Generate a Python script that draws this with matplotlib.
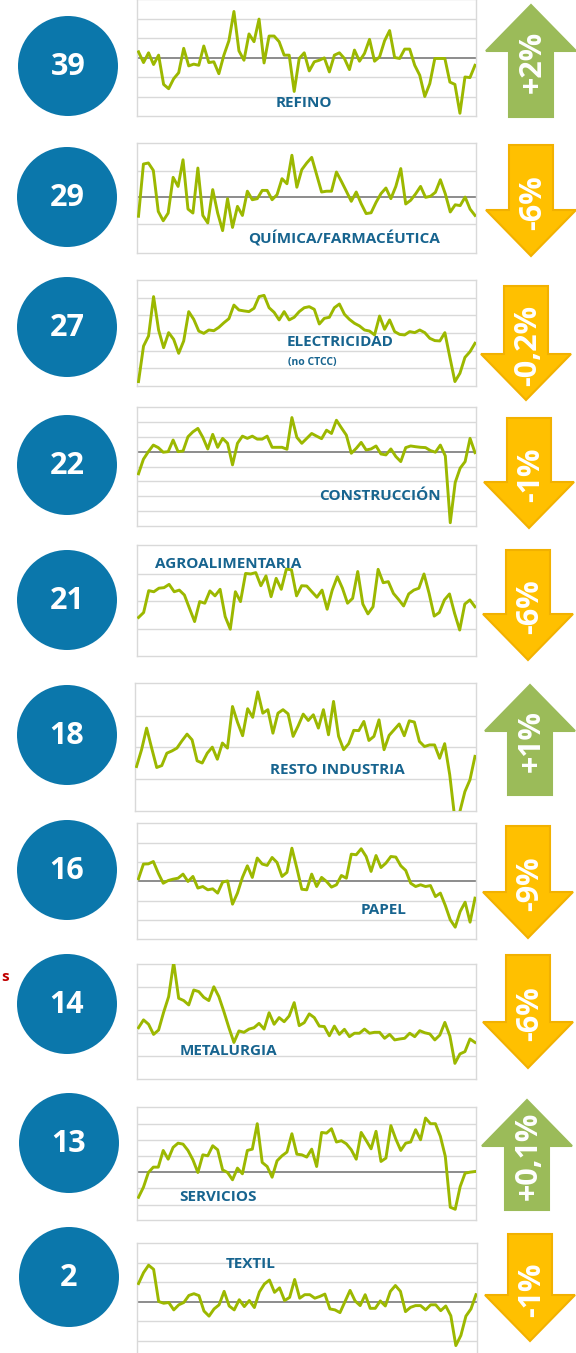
import matplotlib
matplotlib.use("Agg")
import matplotlib.pyplot as plt
from matplotlib.patches import Ellipse, Polygon

plt.rcParams['font.family'] = ['Open Sans', 'DejaVu Sans']

# ---- data (grid units) ----
sectores = ["REFINO", "QUÍMICA/FARMACÉUTICA", "ELECTRICIDAD", "CONSTRUCCIÓN",
            "AGROALIMENTARIA", "RESTO INDUSTRIA", "PAPEL", "METALURGIA",
            "SERVICIOS", "TEXTIL"]
numeros = ["39", "29", "27", "22", "21", "18", "16", "14", "13", "2"]
variaciones = ["+2%", "-6%", "-0,2%", "-1%", "-6%", "+1%", "-9%", "-6%", "+0,1%", "-1%"]

refino = [0.29, -0.26, 0.24, -0.36, 0.12, -1.38, -1.60, -1.09, -0.78, 0.47, -0.43, -0.34,
          -0.40, 0.59, -0.26, -0.22, -0.83, 0.12, 0.86, 2.36, 0.34, -0.14, 1.21, 0.81,
          1.97, -0.28, 1.10, 1.10, 0.81, 0.12, 0.12, -1.74, -0.05, 0.24, -0.69, -0.22,
          -0.14, -0.02, -0.74, 0.12, 0.24, -0.05, -0.62, 0.38, -0.19, 0.21, 0.93, -0.19,
          0.03, 0.86, 1.38, 0.0, -0.05, 0.43, 0.43, -0.40, -0.91, -2.0, -1.34, -0.05,
          -0.05, -0.05, -1.26, -1.38, -2.86, -1.0, -1.03, -0.40]
quimica = [-0.71, 1.25, 1.29, 1.01, -0.53, -0.88, -0.59, 0.75, 0.41, 1.41, -0.44, -0.59,
           1.10, -0.68, -0.96, 0.29, -0.59, -1.25, -0.05, -1.13, -0.34, -0.68, 0.23, -0.09,
           -0.05, 0.26, 0.26, -0.09, 0.10, 0.70, 0.51, 1.58, 0.38, 1.04, 1.29, 1.50, 0.85,
           0.20, 0.23, 0.23, 0.95, 0.60, 0.23, -0.15, 0.20, -0.24, -0.61, -0.58, -0.19,
           0.14, 0.35, -0.05, 0.41, 1.08, -0.25, -0.11, 0.13, 0.41, 0.0, 0.04, 0.19, 0.66,
           0.13, -0.55, -0.28, -0.31, 0.01, -0.44, -0.68]
electricidad = [0.25, 2.26, 2.83, 5.06, 3.17, 2.17, 3.02, 2.64, 1.85, 2.55, 4.21, 3.77,
                3.11, 2.98, 3.17, 3.13, 3.32, 3.58, 3.81, 4.58, 4.30, 4.25, 4.21, 4.40,
                5.06, 5.13, 4.43, 4.17, 3.74, 4.21, 3.74, 3.89, 4.21, 4.43, 4.49, 4.34,
                3.51, 3.83, 3.89, 4.43, 4.64, 4.06, 3.77, 3.55, 3.40, 3.17, 3.11, 2.89,
                3.96, 3.21, 3.74, 3.08, 2.92, 2.89, 3.08, 3.02, 3.17, 3.02, 2.70, 2.57,
                2.55, 3.02, 1.62, 0.25, 0.72, 1.62, 1.94, 2.42]
construccion = [-1.49, -0.51, 0.0, 0.44, 0.27, -0.04, 0.0, 0.78, 0.0, 0.04, 1.0, 1.33,
                1.56, 0.96, 0.18, 1.16, 0.29, 0.89, 0.56, -0.89, 0.56, 1.04, 0.89, 1.04,
                0.84, 0.84, 1.04, 0.29, 0.29, 0.29, 0.16, 2.29, 0.96, 0.56, 0.89, 1.22,
                1.04, 0.87, 1.44, 1.22, 2.11, 1.6, 1.11, -0.11, 0.22, 0.62, 0.11, 0.18,
                0.38, -0.16, -0.22, 0.18, -0.33, -0.67, 0.27, 0.38, 0.33, 0.29, 0.27, 0.07,
                -0.04, 0.44, -0.29, -4.78, -2.07, -1.11, -0.67, 0.89, -0.07]
agro = [1.41, 1.59, 2.39, 2.35, 2.48, 2.5, 2.62, 2.35, 2.41, 2.23, 1.74, 1.26, 1.99, 1.93,
        2.38, 2.2, 2.44, 1.44, 0.98, 2.35, 1.99, 3.02, 3.0, 3.05, 2.57, 2.93, 2.17, 2.84,
        2.44, 3.18, 3.15, 2.2, 2.57, 2.56, 2.35, 2.15, 2.41, 1.71, 2.41, 2.9, 2.48, 1.93,
        2.11, 3.09, 1.9, 1.54, 1.8, 3.17, 2.68, 2.72, 2.29, 2.07, 1.83, 2.27, 2.41, 2.48,
        3.0, 2.29, 1.46, 1.59, 2.05, 2.27, 1.56, 0.95, 1.9, 2.05, 1.8]
resto = [1.40, 1.93, 2.61, 1.98, 1.37, 1.43, 1.82, 1.89, 1.98, 2.21, 2.42, 2.24, 1.58,
         1.51, 1.82, 2.01, 1.63, 2.14, 1.98, 3.29, 2.79, 2.37, 3.22, 2.95, 3.75, 3.08,
         3.19, 2.45, 3.08, 3.19, 3.06, 2.35, 2.68, 3.05, 2.85, 3.03, 2.61, 3.19, 2.4,
         3.45, 2.35, 1.93, 2.12, 2.54, 2.53, 2.82, 2.22, 2.35, 2.87, 1.93, 2.38, 2.56,
         2.74, 2.37, 2.84, 2.8, 2.19, 2.03, 2.08, 2.08, 1.66, 2.12, 1.14, -0.23, -0.02,
         0.61, 0.98, 1.72]
papel = [0.14, 0.9, 0.91, 1.03, 0.43, -0.09, 0.05, 0.12, 0.17, 0.38, 0.0, 0.26, -0.34,
         -0.26, -0.43, -0.38, -0.6, -0.03, 0.03, -1.17, -0.6, 0.21, 0.81, 0.21, 1.21, 0.9,
         0.83, 1.24, 0.98, 0.26, 0.47, 1.72, 0.69, -0.4, -0.43, 0.38, -0.26, 0.21, 0.0,
         -0.29, -0.17, 0.31, 0.17, 1.41, 1.38, 1.69, 1.29, 0.52, 1.34, 0.72, 0.95, 1.29,
         1.26, 0.81, 0.57, -0.09, -0.26, -0.17, -0.26, -0.21, -0.78, -0.6, -1.24, -1.98,
         -2.36, -1.55, -1.07, -2.1, -0.86]
metalurgia = [2.23, 2.57, 2.38, 1.94, 2.13, 2.9, 3.58, 5.07, 3.51, 3.41, 3.22, 3.87, 3.8,
              3.55, 3.41, 4.01, 3.58, 2.93, 2.23, 1.59, 2.09, 2.03, 2.17, 2.23, 2.42, 2.17,
              2.88, 2.38, 2.67, 2.49, 2.74, 3.32, 2.32, 2.45, 2.83, 2.67, 2.3, 2.28, 1.88,
              2.3, 1.94, 2.16, 1.84, 1.99, 1.99, 2.17, 1.99, 2.03, 2.03, 1.77, 1.94, 1.7,
              1.74, 1.77, 1.99, 1.84, 2.1, 2.01, 1.96, 1.7, 1.91, 2.46, 1.87, 0.68, 1.09,
              1.19, 1.74, 1.59]
servicios = [-1.55, -0.93, -0.02, 0.31, 0.31, 1.34, 0.8, 1.53, 1.79, 1.73, 1.34, 0.76,
             -0.02, 1.07, 1.01, 1.63, 1.38, 0.14, -0.02, -0.47, 0.25, -0.1, 1.34, 1.42,
             2.99, 0.6, 0.35, -0.31, 0.7, 1.01, 1.24, 2.37, 1.11, 1.07, 0.93, 1.42, 0.35,
             2.45, 2.41, 2.68, 1.86, 1.94, 1.75, 1.38, 0.8, 2.45, 1.96, 1.44, 2.52, 0.66,
             0.87, 2.87, 2.04, 1.34, 1.79, 1.86, 2.62, 2.0, 3.34, 2.99, 2.99, 2.21, 0.97,
             -2.16, -2.29, -0.89, -0.06, 0.0, 0.04]
textil = [0.92, 1.48, 1.86, 1.65, 0.0, -0.09, -0.05, -0.43, -0.17, -0.05, 0.31, 0.4, 0.3,
          -0.49, -0.75, -0.38, -0.17, 0.52, -0.23, -0.43, 0.09, -0.26, 0.05, -0.31, 0.49,
          0.9, 1.1, 0.47, 0.7, 0.05, 0.21, 1.13, 0.17, 0.35, 0.35, 0.17, 0.26, 0.38, -0.38,
          -0.43, -0.57, 0.0, 0.57, 0.03, -0.21, 0.35, -0.35, -0.35, 0.03, -0.23, 0.52,
          0.82, 0.52, -0.52, -0.3, -0.21, -0.21, -0.43, -0.17, -0.17, -0.47, -0.23, -0.73,
          -2.26, -1.74, -0.75, -0.38, 0.35]

series = [refino, quimica, electricidad, construccion, agro, resto, papel,
          metalurgia, servicios, textil]

# ---- layout (pixels) ----
W, H = 576, 1353
BLUE = '#0B77AB'
LINE = '#9CB800'
LABEL = '#17648F'
GREEN = '#9BBB59'
ORANGE = '#FFC000'

# chart boxes: left, top, right, bottom, ylim, gridlines, zero line
boxes = [
    (137, -1, 476, 116, (-3, 3), [-2, -1, 1, 2], True),
    (137, 143, 476, 253, (-2.09, 2.04), [-1, 1], True),
    (137, 280, 476, 386, (0, 6), [1, 2, 3, 4, 5], False),
    (137, 407, 476, 526, (-5, 3), [-4, -3, -2, -1, 1, 2], True),
    (137, 545, 476, 656, (0, 4.06), [1, 2, 3], False),
    (135, 683, 476, 811, (0, 4.03), [1, 2, 3], False),
    (137, 823, 476, 939, (-2.97, 3.02), [-2, -1, 1, 2], True),
    (137, 964, 476, 1079, (0, 5), [1, 2, 3, 4], False),
    (137, 1107, 476, 1220, (-2.95, 4.02), [-2, -1, 1, 2, 3], True),
    (137, 1243, 477, 1360, (-3, 3), [-2, -1, 1, 2], True),
]
# label: x, y, ha
etiquetas = [(304, 103, 'center'), (344, 238, 'center'), (287, 342, 'left'),
             (380, 496, 'center'), (228, 564, 'center'), (337, 770, 'center'),
             (384, 910, 'center'), (228, 1051, 'center'), (218, 1197, 'center'),
             (251, 1264, 'center')]
circulos = [(68, 66), (67, 197), (67, 327), (67, 465), (67, 600), (67, 735),
            (67, 870), (67, 1004), (69, 1143), (69, 1277)]
# arrows: center x, top, bottom
flechas = [(531, 5, 117), (531, 145, 256), (526, 286, 400), (529, 418, 528),
           (528, 550, 660), (530, 685, 795), (528, 826, 938), (528, 955, 1068),
           (527, 1100, 1210), (530, 1234, 1341)]

fig = plt.figure(figsize=(W / 100, H / 100), dpi=100)
fig.patch.set_facecolor('white')

for (l, t, r, b, yl, grid, zero), vals in zip(boxes, series):
    ax = fig.add_axes([l / W, 1 - b / H, (r - l) / W, (b - t) / H])
    n = len(vals)
    ax.plot(range(n), vals, color=LINE, lw=2.1, zorder=3)
    ax.set_xlim(-0.3, n - 0.8)
    ax.set_ylim(*yl)
    ax.set_yticks(grid)
    ax.set_xticks([])
    ax.tick_params(length=0, labelleft=False)
    ax.grid(axis='y', color='#D9D9D9', lw=1)
    if zero:
        ax.axhline(0, color='#8C8C8C', lw=1.4, zorder=2)
    for s in ax.spines.values():
        s.set_color('#D9D9D9')
        s.set_linewidth(1)

ov = fig.add_axes([0, 0, 1, 1], facecolor='none')
ov.set_xlim(0, W)
ov.set_ylim(H, 0)
ov.axis('off')

for (cx, cy), num in zip(circulos, numeros):
    ov.add_patch(Ellipse((cx, cy), 100, 100, color=BLUE, lw=0))
    ov.text(cx, cy + 1, num, color='white', fontsize=22, fontweight='bold',
            ha='center', va='center')
ov.add_patch(Ellipse((44, 1405), 100, 100, color=BLUE, lw=0))
ov.text(1, 977, "s", color='#C00000', fontsize=11, fontweight='bold',
        ha='left', va='center')

for (x, y, ha), nombre in zip(etiquetas, sectores):
    ov.text(x, y, nombre, color=LABEL, fontsize=11, fontweight='bold',
            ha=ha, va='center')
ov.text(288, 362, "(no CTCC)", color=LABEL, fontsize=7.5, fontweight='bold',
        ha='left', va='center')

for (cx, top, bot), txt in zip(flechas, variaciones):
    up = txt.startswith('+')
    hw, sw, hl = 45, 22, 46
    if up:
        pts = [(cx, top), (cx + hw, top + hl), (cx + sw, top + hl), (cx + sw, bot),
               (cx - sw, bot), (cx - sw, top + hl), (cx - hw, top + hl)]
        col, ec, ty = GREEN, GREEN, (top + bot) / 2 + 1
    else:
        pts = [(cx - sw, top), (cx + sw, top), (cx + sw, bot - hl), (cx + hw, bot - hl),
               (cx, bot), (cx - hw, bot - hl), (cx - sw, bot - hl)]
        col, ec, ty = ORANGE, '#F2B100', (top + bot) / 2 + 2
    ov.add_patch(Polygon(pts, closed=True, facecolor=col, edgecolor=ec, lw=1.5))
    ov.text(cx + 2, ty, txt, color='white', fontsize=22, fontweight='bold',
            rotation=90, ha='center', va='center')

fig.savefig('out.png', dpi=100, facecolor='white')
